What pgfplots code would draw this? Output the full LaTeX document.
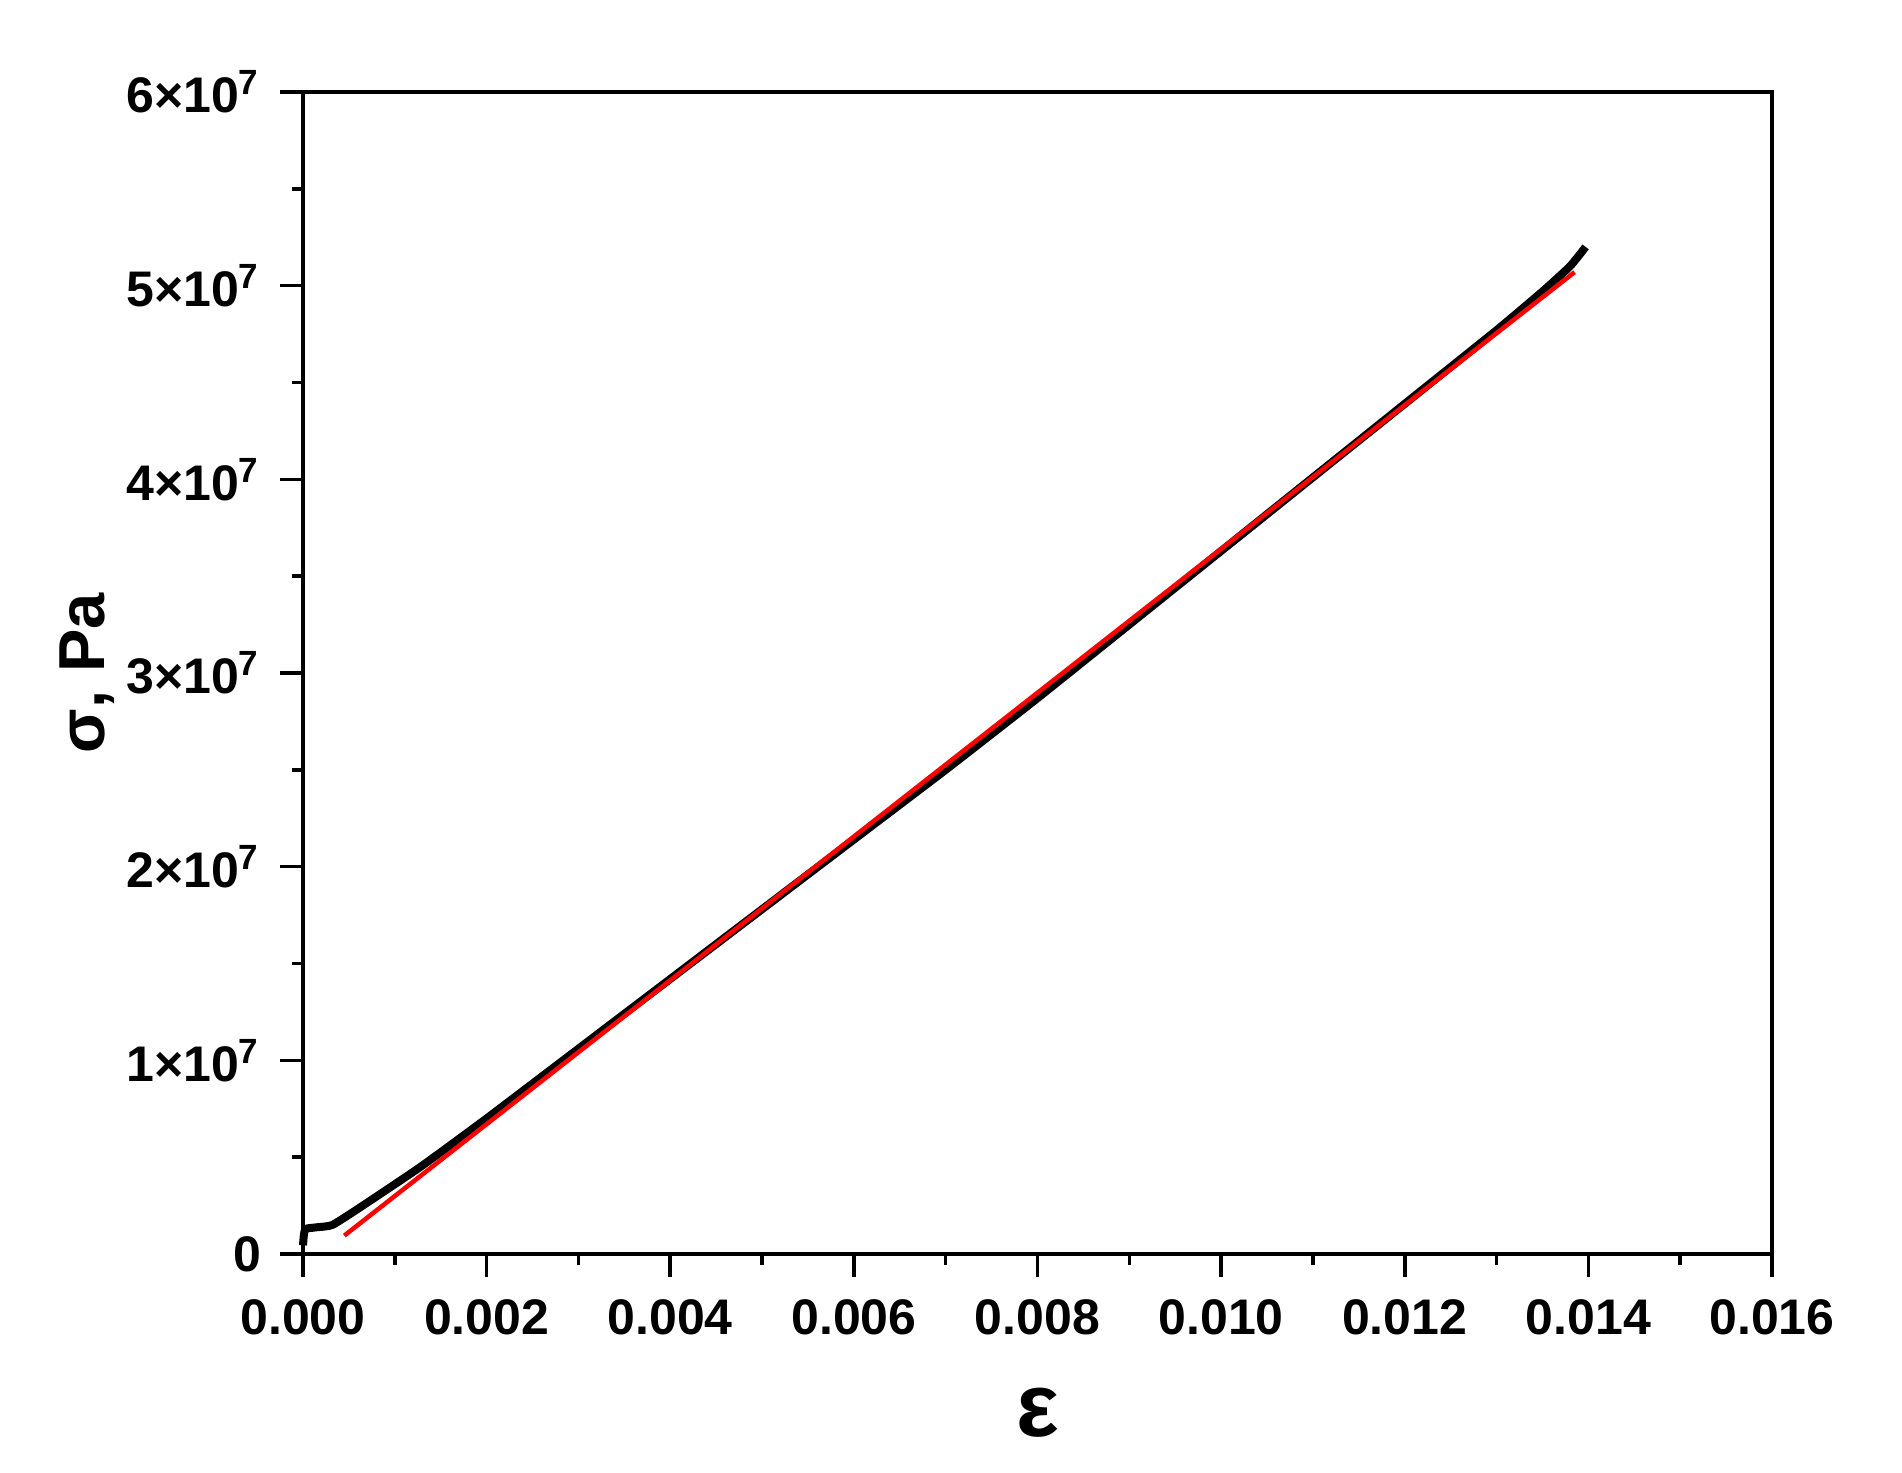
\documentclass[border=0pt]{standalone}
\usepackage{fontspec}
\setmainfont{Liberation Sans}
\usepackage{pgfplots}
\pgfplotsset{compat=1.18}

\begin{document}
\begin{tikzpicture}
  % frame of the page, in pt (0.2pt per reference pixel)
  \useasboundingbox (-60.6pt,-43.8pt) rectangle (319.8pt,250.8pt);
  \begin{axis}[
    at={(0,0)}, anchor=south west,
    scale only axis,
    width=293.8pt, height=232.4pt,
    xmin=0, xmax=0.016,
    ymin=0, ymax=6e7,
    axis line style={line width=0.7pt},
    xtick pos=bottom, ytick pos=left,
    xtick={0,0.002,...,0.016},
    xticklabels={0.000,0.002,0.004,0.006,0.008,0.010,0.012,0.014,0.016},
    ytick={0,1e7,2e7,3e7,4e7,5e7,6e7},
    yticklabels={0,
      1×10\textsuperscript{7},2×10\textsuperscript{7},3×10\textsuperscript{7},
      4×10\textsuperscript{7},5×10\textsuperscript{7},6×10\textsuperscript{7}},
    minor x tick num=1, minor y tick num=1,
    scaled x ticks=false, scaled y ticks=false,
    tick align=outside,
    major tick length=4.6pt, minor tick length=2.2pt,
    every tick/.style={black, line width=0.7pt},
    tick label style={font=\fontsize{10}{11}\selectfont\bfseries},
    /pgf/number format/assume math mode=true,
    xticklabel style={yshift=-1pt},
    yticklabel style={xshift=-0.3pt},
    xlabel={ε},
    ylabel={σ, Pa},
    xlabel style={at={(rel axis cs:0.5,0)}, anchor=center, yshift=-31.8pt,
      font=\fontsize{18}{20}\selectfont\bfseries},
    ylabel style={at={(rel axis cs:0,0.5)}, anchor=center, yshift=43.2pt,
      font=\fontsize{13}{15}\selectfont\bfseries},
    clip=false,
  ]
    % measured curve
    \addplot[black, line width=1.6pt, line join=round, smooth, tension=0.3] coordinates {
      (0,0.45e6) (0.00001,1.0e6) (0.00003,1.3e6) (0.00015,1.38e6)
      (0.00032,1.5e6) (0.00062,2.4e6) (0.00128,4.5e6) (0.002,7.0e6)
      (0.003,10.6e6) (0.004,14.2e6) (0.005,17.8e6) (0.006,21.4e6)
      (0.007,25.0e6) (0.008,28.7e6) (0.009,32.5e6) (0.010,36.3e6)
      (0.011,40.1e6) (0.012,43.9e6) (0.013,47.7e6) (0.0135,49.7e6)
      (0.0138,51.0e6) (0.01397,52.0e6)
    };
    % linear fit
    \addplot[red, line width=0.9pt] coordinates {
      (0.00045,0.95e6) (0.01385,50.7e6)
    };
  \end{axis}
\end{tikzpicture}
\end{document}
